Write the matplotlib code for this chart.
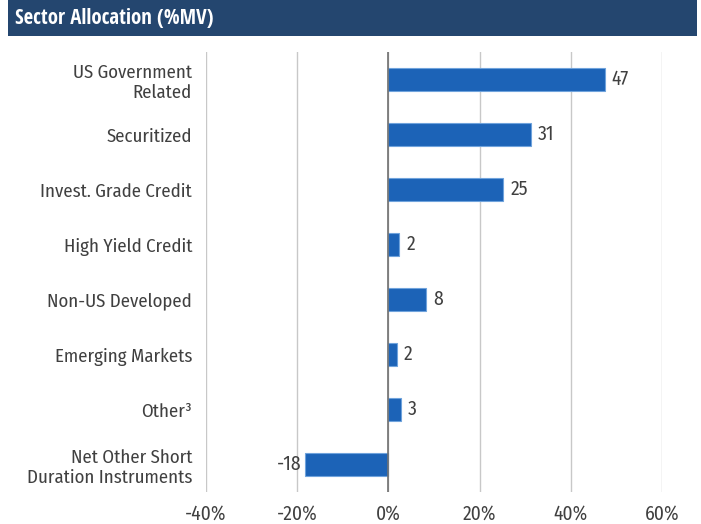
import matplotlib.pyplot as plt
import matplotlib.patches as patches

# Data
categories = [
    "US Government\nRelated",
    "Securitized",
    "Invest. Grade Credit",
    "High Yield Credit",
    "Non-US Developed",
    "Emerging Markets",
    "Other\u00b3",
    "Net Other Short\nDuration Instruments",
]
values = [47.4, 31.2, 25.2, 2.4, 8.3, 1.8, 2.8, -18.2]
value_labels = ["47", "31", "25", "2", "8", "2", "3", "-18"]
xticks = [-40, -20, 0, 20, 40, 60]
xtick_labels = ["-40%", "-20%", "0%", "20%", "40%", "60%"]

plt.rcParams['font.family'] = ['Fira Sans Condensed', 'DejaVu Sans']

text_color = '#404040'
bar_color = '#1c63b7'
fs = 13.5

fig = plt.figure(figsize=(7.01, 5.24), dpi=100)

# Header bar
fig.patches.append(patches.Rectangle((8 / 701, 1 - 36 / 524), 689 / 701, 36 / 524,
                                     transform=fig.transFigure, facecolor='#24466f',
                                     edgecolor='none', zorder=0))
fig.text(15 / 701, 1 - 18 / 524, "Sector Allocation (%MV)", color='white',
         fontsize=15, fontweight='bold', va='center', ha='left',
         family=['Open Sans Condensed', 'DejaVu Sans'])

ax = fig.add_axes([206 / 701, 1 - 492 / 524, 456 / 701, 440 / 524])
y = list(range(len(categories)))
ax.barh(y, values, height=0.42, color=bar_color, edgecolor='#6fa3dc',
        linewidth=0.8, zorder=3)

for yi, v, lab in zip(y, values, value_labels):
    if v >= 0:
        ax.text(v + 1.5, yi, lab, va='center', ha='left', fontsize=fs + 0.5,
                color=text_color)
    else:
        ax.text(v - 0.8, yi, lab, va='center', ha='right', fontsize=fs + 0.5,
                color=text_color)

ax.set_xlim(-40, 60)
ax.set_ylim(len(categories) - 0.5, -0.5)
ax.set_yticks(y)
ax.set_yticklabels(categories, fontsize=fs, color=text_color, linespacing=1.15)
ax.set_xticks(xticks)
ax.set_xticklabels(xtick_labels, fontsize=fs + 0.5, color=text_color)
ax.tick_params(axis='both', length=0)
ax.tick_params(axis='y', pad=10)
ax.tick_params(axis='x', pad=9)

ax.grid(axis='x', color='#c8c8c8', linewidth=1, zorder=0)
ax.axvline(0, color='#707070', linewidth=1.2, zorder=4)
for s in ax.spines.values():
    s.set_visible(False)

fig.savefig('out.png', dpi=100)
